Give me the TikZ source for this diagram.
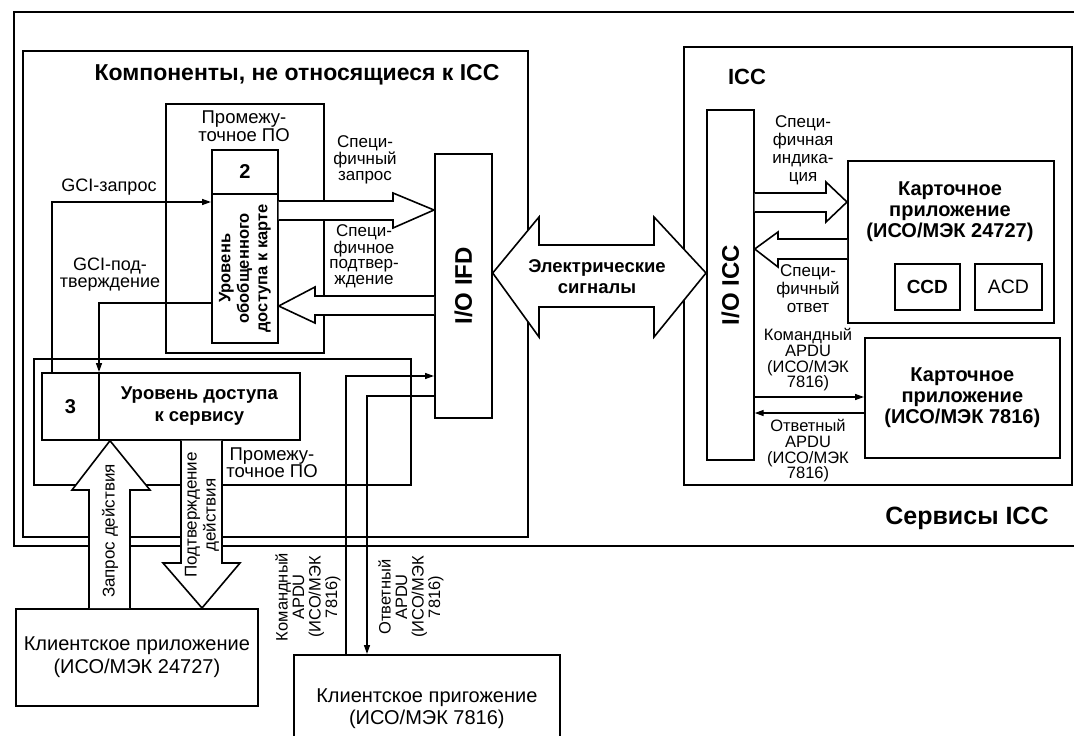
\documentclass[tikz,border=0pt]{standalone}
\usepackage{fontspec}
\setmainfont{Liberation Sans}
\usetikzlibrary{arrows.meta}
\tikzset{
  box/.style={draw, line width=1.7pt, inner sep=0pt, anchor=north west},
  lbl/.style={align=center, inner sep=0pt, font=\fontsize{17}{15.5}\selectfont},
  blbl/.style={align=center, inner sep=0pt, font=\bfseries\fontsize{19}{21}\selectfont},
  arr/.style={line width=1.4pt, -{Triangle[length=9pt,width=6pt]}},
  fat/.style={line width=1.6pt, fill=white, line join=miter},
}
\begin{document}
\begin{tikzpicture}[x=1pt,y=-1pt]
        \useasboundingbox (0,0) rectangle (1074,736);
        % frames
        \draw[line width=1.9pt] (1074,12) -- (14,12) -- (14,546) -- (1074,546);
        \node[box, minimum width=505, minimum height=486] (nonicc) at (22,50) {};
        \node[box, minimum width=158, minimum height=249] (mw1) at (165,103) {};
        \node[box, minimum width=66, minimum height=44, font=\bfseries\fontsize{20}{22}\selectfont] (num2) at (211,149) {2};
        \node[box, minimum width=66, minimum height=149] (gen) at (211,193) {};
        \node[box, minimum width=57, minimum height=264] (ifd) at (434,153) {};
        \node[box, minimum width=377, minimum height=126] (svc) at (33,358) {};
        \node[box, minimum width=57, minimum height=67, font=\bfseries\fontsize{20}{22}\selectfont] (num3) at (41,372) {3};
        \node[box, minimum width=201, minimum height=67, align=center,
          font=\bfseries\fontsize{18.5}{22}\selectfont] (acc) at (98,372) {Уровень доступа\\к сервису};
        \node[box, minimum width=242, minimum height=97, align=center,
          font=\fontsize{20}{22.5}\selectfont] (cl1) at (15,608) {Клиентское приложение\\(ИСО/МЭК 24727)};
        \node[box, minimum width=266, minimum height=108, align=center,
          font=\fontsize{20}{22.5}\selectfont] (cl2) at (293,654) {Клиентское пригожение\\(ИСО/МЭК 7816)};
        % card side
        \node[box, minimum width=388, minimum height=438] (icc) at (683,46) {};
        \node[box, minimum width=47, minimum height=350] (ioicc) at (706,109) {};
        \node[box, minimum width=206, minimum height=162] (capp1) at (847,160) {};
        \node[box, minimum width=65, minimum height=46, font=\bfseries\fontsize{19}{21}\selectfont] (ccd) at (894,263) {CCD};
        \node[box, minimum width=67, minimum height=46, font=\fontsize{19.5}{21}\selectfont] (acd) at (974,263) {ACD};
        \node[box, minimum width=195, minimum height=120, align=center,
          font=\bfseries\fontsize{20}{21}\selectfont] (capp2) at (864,337) {Карточное\\приложение\\(ИСО/МЭК 7816)};
        % thin connectors
        \draw[arr] (num3.north -| 52,0) |- (gen.west |- 0,202);
        \draw[arr] (gen.west |- 0,303) -| (acc.north -| 99,0);
        \draw[arr] (cl2.north -| 346,0) |- (ifd.west |- 0,376);
        \draw[arr] (ifd.west |- 0,396) -| (cl2.north -| 367,0);
        \draw[arr] (ioicc.east |- 0,397) -- (capp2.west |- 0,397);
        \draw[arr] (capp2.west |- 0,413) -- (ioicc.east |- 0,413);
        % block arrows
        \draw[fat] (gen.east |- 0,201) -- (393,201) -- (393,193) -- (ifd.west |- 0,210)
          -- (393,228) -- (393,220) -- (gen.east |- 0,220);
        \draw[fat] (ifd.west |- 0,296) -- (315,296) -- (315,287) -- (gen.east |- 0,306)
          -- (315,323) -- (315,315) -- (ifd.west |- 0,315);
        \draw[fat] (ioicc.east |- 0,193) -- (826,193) -- (826,182) -- (capp1.west |- 0,202)
          -- (826,222) -- (826,212) -- (ioicc.east |- 0,212);
        \draw[fat] (capp1.west |- 0,239) -- (778,239) -- (778,232) -- (ioicc.east |- 0,249)
          -- (778,267) -- (778,259) -- (capp1.west |- 0,259);
        \draw[fat] (ifd.east |- 0,273) -- (539,217) -- (539,245) -- (654,245) -- (654,217)
          -- (ioicc.west |- 0,273) -- (654,337) -- (654,307) -- (539,307) -- (539,337) -- cycle;
        \draw[fat] (cl1.north -| 89,0) -- (89,490) -- (72,490) -- (acc.south -| 110,0)
          -- (150,490) -- (130,490) -- (cl1.north -| 130,0);
        \draw[fat] (acc.south -| 181,0) -- (181,563) -- (163,563) -- (cl1.north -| 202,0)
          -- (240,563) -- (222,563) -- (acc.south -| 222,0);
        % texts
        \node[font=\bfseries\fontsize{23}{25}\selectfont] (ttl) at (297,75) {Компоненты, не относящиеся к ICC};
        \node[lbl, font=\fontsize{18.5}{18}\selectfont] (mw1txt) at (244,126) {Промежу-\\точное ПО};
        \node[blbl, rotate=90, font=\bfseries\fontsize{16.5}{18.5}\selectfont] (gentxt) at (gen) {Уровень\\обобщенного\\доступа к карте};
        \node[lbl, font=\fontsize{18}{17}\selectfont] (gcireq) at (109,187) {GCI-запрос};
        \node[lbl, font=\fontsize{18}{17}\selectfont] (gciconf) at (110,275) {GCI-под-\\тверждение};
        \node[lbl] (spreq) at (365,160) {Специ-\\фичный\\запрос};
        \node[lbl] (spconf) at (364,256) {Специ-\\фичное\\подтвер-\\ждение};
        \node[blbl, rotate=90, font=\bfseries\fontsize{24}{26}\selectfont] (ifdtxt) at (ifd) {I/O IFD};
        \node[lbl, font=\fontsize{18.5}{17}\selectfont] (svctxt) at (272,463) {Промежу-\\точное ПО};
        \node[lbl, rotate=90] (actreq) at (110,531) {Запрос действия};
        \node[lbl, rotate=90, font=\fontsize{17}{19}\selectfont] (actconf) at (202,515) {Подтверждение\\действия};
        \node[lbl, rotate=90, font=\fontsize{16.5}{16.5}\selectfont] (cmdl) at (308,597) {Командный\\APDU\\(ИСО/МЭК\\7816)};
        \node[lbl, rotate=90, font=\fontsize{16.5}{16.5}\selectfont] (ansl) at (411,597) {Ответный\\APDU\\(ИСО/МЭК\\7816)};
        \node[blbl, font=\bfseries\fontsize{18.5}{21}\selectfont] (elec) at (597,277) {Электрические\\сигналы};
        \node[font=\bfseries\fontsize{22}{24}\selectfont] (icctxt) at (747,77) {ICC};
        \node[blbl, rotate=90, font=\bfseries\fontsize{24}{26}\selectfont] (ioicctxt) at (ioicc |- 0,285) {I/O ICC};
        \node[lbl, font=\fontsize{17}{18}\selectfont] (spind) at (803,150) {Специ-\\фичная\\индика-\\ция};
        \node[blbl, font=\bfseries\fontsize{20}{21}\selectfont] (capp1txt) at (950,212) {Карточное\\приложение\\(ИСО/МЭК 24727)};
        \node[lbl, font=\fontsize{17}{18}\selectfont] (spans) at (808,289) {Специ-\\фичный\\ответ};
        \node[lbl, font=\fontsize{16.5}{15.7}\selectfont] (cmdr) at (808,360) {Командный\\APDU\\(ИСО/МЭК\\7816)};
        \node[lbl, font=\fontsize{16.5}{15.7}\selectfont] (ansr) at (808,451) {Ответный\\APDU\\(ИСО/МЭК\\7816)};
        \node[font=\bfseries\fontsize{25}{27}\selectfont] (svcicc) at (967,518) {Сервисы ICC};
      \end{tikzpicture}
\end{document}
